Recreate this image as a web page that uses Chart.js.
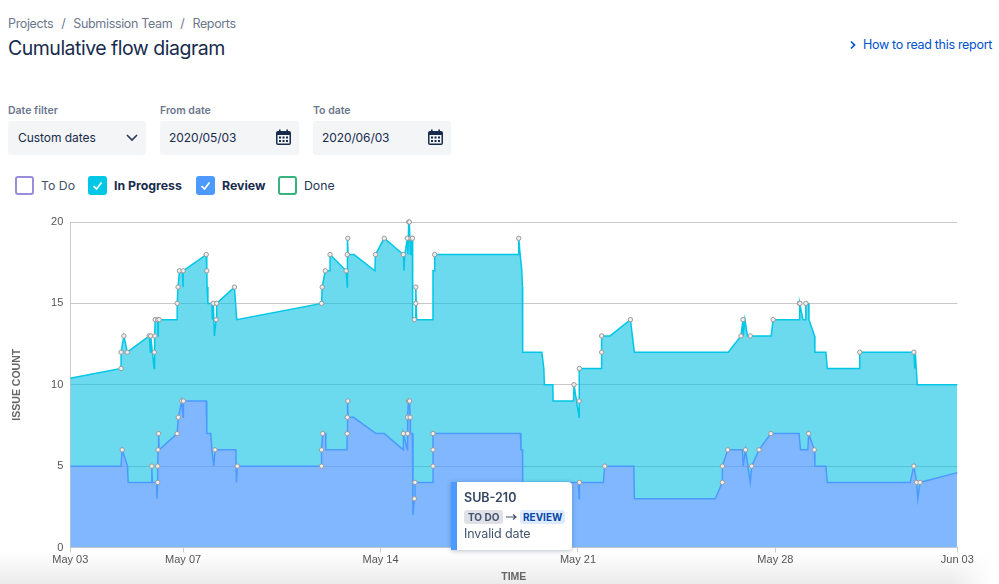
<!DOCTYPE html>
<html lang="en">
<head>
  <meta charset="UTF-8" />
  <title>Cumulative flow diagram</title>
  <script src="https://cdn.jsdelivr.net/npm/chart.js"></script>
  <style>
    html,body{margin:0;padding:0;}
    body{width:999px;height:584px;position:relative;overflow:hidden;font-family:Inter,"Noto Sans",sans-serif;color:#172B4D;
      background:linear-gradient(to right,rgba(255,255,255,0) 950px,#fff 995px),linear-gradient(to bottom,#fff 0,#fff 552px,#ebebeb 584px);}
    .abs{position:absolute;white-space:nowrap;}
    #crumbs{left:8px;top:15px;font-size:12.5px;letter-spacing:-.35px;line-height:17px;color:#6B778C;}
    #crumbs i{font-style:normal;margin:0 8px;}
    h1{margin:0;left:8px;top:36px;font-size:19.5px;letter-spacing:-.5px;line-height:25px;font-weight:400;}
    #help{left:863px;top:37px;font-size:12.5px;letter-spacing:-.3px;line-height:16px;color:#0052CC;}
    .lbl{top:104px;font-size:10.5px;line-height:14px;font-weight:600;color:#6B778C;}
    .field{top:121px;height:34px;width:139px;background:#F4F5F7;border-radius:3px;font-size:12px;letter-spacing:-.1px;line-height:34px;}
    .field span{position:absolute;left:9px;}
    .field svg{position:absolute;top:8px;right:6px;}
    .box{top:176px;width:15px;height:15px;border:2px solid;border-radius:3px;background:#fff;}
    .box svg{position:absolute;left:0;top:0;}
    .lg{top:177px;font-size:12.3px;line-height:17px;}
    canvas{position:absolute;left:0;top:0;}
    #tip{left:451px;top:482px;width:115px;height:68px;background:#fff;border-left:6px solid #4C9AFF;border-radius:0 4px 4px 0;box-shadow:0 1px 5px rgba(9,30,66,.28);color:#42526E;}
    #tip b{position:absolute;left:7px;top:8px;font-size:12.5px;line-height:16px;font-weight:600;color:#344563;}
    .badge{position:absolute;top:28px;height:14px;line-height:14px;padding:0 4px;border-radius:3px;font-size:10px;font-weight:700;}
    #tip em{position:absolute;left:7px;top:44px;font-style:normal;font-size:12.5px;letter-spacing:-.1px;line-height:16px;}
  </style>
</head>
<body>
  <div class="abs" id="crumbs">Projects<i>/</i>Submission Team<i>/</i>Reports</div>
  <h1 class="abs">Cumulative flow diagram</h1>
  <svg class="abs" style="left:849px;top:40px" width="8" height="10"><path d="M2 1.5 L5.5 5 L2 8.5" fill="none" stroke="#0052CC" stroke-width="1.7"/></svg>
  <div class="abs" id="help">How to read this report</div>

  <div class="abs lbl" style="left:8px">Date filter</div>
  <div class="abs lbl" style="left:160px">From date</div>
  <div class="abs lbl" style="left:313px">To date</div>
  <div class="abs field" style="left:8px;width:138px;letter-spacing:-.05px"><span style="left:10px">Custom dates</span>
    <svg width="14" height="18" style="right:7px"><path d="M2 6 L7 11 L12 6" fill="none" stroke="#253858" stroke-width="1.6"/></svg></div>
  <div class="abs field" style="left:160px"><span>2020/05/03</span>
    <svg width="18" height="18"><use href="#cal"/></svg></div>
  <div class="abs field" style="left:313px;width:138px"><span>2020/06/03</span>
    <svg width="18" height="18"><use href="#cal"/></svg></div>
  <svg width="0" height="0" style="position:absolute"><defs><g id="cal">
    <rect x="1" y="2" width="15" height="14" rx="2" fill="#172B4D"/>
    <rect x="4" y="0.5" width="1.6" height="3" fill="#172B4D"/><rect x="11.4" y="0.5" width="1.6" height="3" fill="#172B4D"/>
    <rect x="2.5" y="6" width="12" height="8.5" fill="#F4F5F7"/>
    <rect x="4" y="7.5" width="2" height="2" fill="#172B4D"/><rect x="7.5" y="7.5" width="2" height="2" fill="#172B4D"/><rect x="11" y="7.5" width="2" height="2" fill="#172B4D"/>
    <rect x="4" y="11" width="2" height="2" fill="#172B4D"/><rect x="7.5" y="11" width="2" height="2" fill="#172B4D"/><rect x="11" y="11" width="2" height="2" fill="#172B4D"/>
  </g></defs></svg>

  <div class="abs box" style="left:15px;border-color:#998DD9"></div>
  <div class="abs lg" style="left:41px;color:#42526E">To Do</div>
  <div class="abs box" style="left:88px;border-color:#00C7E6;background:#00C7E6"><svg width="15" height="15"><path d="M3.5 8 L6.5 11 L11.5 4.5" fill="none" stroke="#fff" stroke-width="1.7"/></svg></div>
  <div class="abs lg" style="left:114px;font-weight:700">In Progress</div>
  <div class="abs box" style="left:196px;border-color:#4C9AFF;background:#4C9AFF"><svg width="15" height="15"><path d="M3.5 8 L6.5 11 L11.5 4.5" fill="none" stroke="#fff" stroke-width="1.7"/></svg></div>
  <div class="abs lg" style="left:222px;font-weight:700">Review</div>
  <div class="abs box" style="left:278px;border-color:#36B37E"></div>
  <div class="abs lg" style="left:304px;color:#253858">Done</div>

  <canvas id="flow" width="999" height="584"></canvas>

  <div class="abs" id="tip">
    <b>SUB-210</b>
    <div class="badge" style="left:7px;background:#DFE1E6;color:#42526E">TO DO</div>
    <svg class="abs" style="left:49px;top:30px" width="12" height="10"><path d="M0 5 H10 M7 2.5 L10 5 L7 7.5" fill="none" stroke="#42526E" stroke-width="1.2"/></svg>
    <div class="badge" style="left:63px;background:#DEEBFF;color:#0747A6;padding:0 3px">REVIEW</div>
    <em>Invalid date</em>
  </div>

<script>
  // Days since May 03
  const tickDays=[0,4,11,18,25,31.45];
  const tickLabels=['May 03','May 07','May 14','May 21','May 28','Jun 03'];
  const countTicks=[0,5,10,15,20];

  // Top edge of In Progress (stacked on Review); 1 = issue moved here, gets a dot
  const progressDays=[0,1.80,1.80,1.90,2.02,2.80,2.84,2.85,2.97,2.98,3.00,3.01,3.10,3.11,3.12,3.15,3.79,3.79,3.82,3.87,3.97,4.00,4.00,4.82,4.84,4.85,4.88,5.02,5.04,5.07,5.11,5.17,5.19,5.82,5.90,
    8.91,8.93,9.04,9.21,9.21,9.78,9.82,9.82,9.82,9.84,9.85,10.06,10.80,10.82,11.13,11.81,11.83,11.86,11.95,11.97,12.00,12.02,12.06,12.08,12.13,12.14,12.20,12.25,12.25,12.25,12.28,12.84,12.86,12.92,12.92,
    15.89,15.90,15.95,16.01,16.03,16.04,16.72,16.79,16.81,17.11,17.12,17.84,17.86,18.04,18.04,18.05,18.84,18.84,18.84,19.14,19.86,20.00,
    23.33,23.78,23.85,23.86,23.92,24.01,24.11,24.85,24.92,25.84,25.85,25.87,25.98,26.06,26.08,26.18,26.19,26.39,26.40,26.79,26.84,27.98,27.99,29.91,29.94,29.96,30.03,31.45];
  const progressCounts=[10.4,11,12,13,12,13,12,13,11,12,13,14,14,13,14,14,14,15,16,17,17,16,17,18,17,16,15,15,14,15,13,14,15,16,14,
    15,16,17,17,18,17,16,17,18,19,18,18,17,18,19,18,17,18,19,18,20,20,18,19,19,14,14,14,15,16,14,14,17,17,18,
    18,19,18,17,16,12,12,11,10,10,9,9,10,8,9,11,11,12,13,13,14,12,
    12,13,14,13,14,13,13,13,14,14,15,15,14,14,15,15,14,13,12,12,11,11,12,12,11,12,10,10];
  const progressEvents=[0,1,1,1,1,1,0,1,0,1,1,1,1,0,0,1,0,1,1,1,0,0,1,1,1,0,0,0,0,1,0,1,1,1,0,
    1,1,1,0,1,1,0,0,1,1,0,0,0,1,1,1,0,0,1,0,1,1,0,1,1,0,1,0,1,1,0,0,0,0,1,
    0,1,0,0,0,0,0,0,0,0,0,0,1,0,1,1,0,1,1,0,1,0,
    0,1,1,0,0,0,1,0,1,0,1,1,0,0,1,0,0,0,0,0,0,0,1,1,0,0,0,0];

  // Top edge of Review
  const reviewDays=[0,1.80,1.84,2.03,2.05,2.87,2.89,2.91,3.06,3.07,3.10,3.10,3.11,3.13,3.15,3.79,3.83,3.95,4.00,4.01,4.07,4.82,4.84,4.98,5.02,5.09,5.13,5.87,5.89,5.92,
    8.91,8.91,8.95,9.06,9.06,9.81,9.82,9.82,9.84,9.85,10.04,10.84,11.13,11.81,11.81,11.95,11.96,11.96,11.99,12.03,12.05,12.06,12.13,12.15,12.20,12.22,12.84,12.86,12.86,12.86,
    15.96,15.98,16.03,16.04,18.01,18.04,18.05,18.90,18.95,19.98,20.00,
    22.87,23.12,23.12,23.31,23.83,23.86,23.94,24.11,24.16,24.42,24.84,25.84,25.89,26.15,26.18,26.38,26.40,26.79,26.84,29.78,29.91,30.01,30.05,30.13,31.45];
  const reviewCounts=[5,5,6,5,4,4,5,4,4,3,4,5,6,7,6,7,8,9,8,9,9,9,7,7,6,5,6,6,4,5,
    5,6,7,7,6,6,7,8,9,8,8,7,7,6,7,6,7,8,9,9,8,7,7,2,3,4,4,5,6,7,
    7,6,6,4,4,3,4,4,5,5,3,
    3,4,5,6,6,5,6,4,5,6,7,7,6,6,7,6,5,5,4,4,5,4,3,4,4.6];
  const reviewEvents=[0,0,1,0,0,0,1,0,0,0,1,1,1,1,0,1,1,1,0,1,0,0,0,0,0,0,1,0,0,1,
    1,1,1,0,0,0,1,1,1,0,0,0,0,0,1,0,1,1,1,1,1,0,0,0,1,1,0,1,1,1,
    0,0,0,0,0,0,1,0,1,0,0,
    0,1,1,1,0,0,1,0,1,1,1,0,0,0,1,1,0,0,0,0,1,1,0,1,0];

  const toPoints=(days,counts)=>days.map((d,i)=>({x:d,y:counts[i]}));
  const dot=events=>ctx=>events[ctx.dataIndex]?2.2:0;

  new Chart(document.getElementById('flow').getContext('2d'),{
    type:'line',
    data:{datasets:[
      {label:'Review',data:toPoints(reviewDays,reviewCounts),borderColor:'#4C9AFF',borderWidth:1.5,
        backgroundColor:'rgba(76,154,255,.71)',fill:'origin',tension:0,clip:false,
        pointRadius:dot(reviewEvents),pointHoverRadius:dot(reviewEvents),pointBackgroundColor:'#eee',pointBorderColor:'#999',pointBorderWidth:1},
      {label:'In Progress',data:toPoints(progressDays,progressCounts),borderColor:'#00C7E6',borderWidth:1.5,
        backgroundColor:'rgba(0,190,225,.58)',fill:{target:0},tension:0,clip:false,
        pointRadius:dot(progressEvents),pointHoverRadius:dot(progressEvents),pointBackgroundColor:'#eee',pointBorderColor:'#999',pointBorderWidth:1}
    ]},
    options:{
      responsive:false,animation:false,
      events:[],
      layout:{padding:{top:222,right:41.7,bottom:0,left:0}},
      plugins:{legend:{display:false},tooltip:{enabled:false}},
      scales:{
        x:{type:'linear',min:0,max:31.45,
          afterBuildTicks:s=>{s.ticks=tickDays.map(v=>({value:v}));},
          afterFit:s=>{s.height=36.5;},
          ticks:{autoSkip:false,maxRotation:0,padding:1,color:'#555',font:{family:'Liberation Sans',size:11},
            callback:(v,i)=>tickLabels[i]},
          grid:{drawOnChartArea:false,drawTicks:true,tickLength:5,color:'#ccc'},
          border:{color:'#ccc'},
          title:{display:true,text:'TIME',color:'#666',font:{family:'Liberation Sans',size:10.5,weight:'bold'},padding:{top:0,bottom:1}}},
        y:{min:0,max:20,
          afterBuildTicks:s=>{s.ticks=countTicks.map(v=>({value:v}));},
          afterFit:s=>{s.width=70.3;},
          ticks:{padding:7,color:'#555',font:{family:'Liberation Sans',size:11}},
          grid:{color:'#c8c8c8',drawTicks:false},
          border:{color:'#ccc'},
          title:{display:true,text:'ISSUE COUNT',color:'#666',font:{family:'Liberation Sans',size:10.5,weight:'bold'},padding:{top:11,bottom:0}}}
      }
    }
  });
</script>
</body>
</html>
